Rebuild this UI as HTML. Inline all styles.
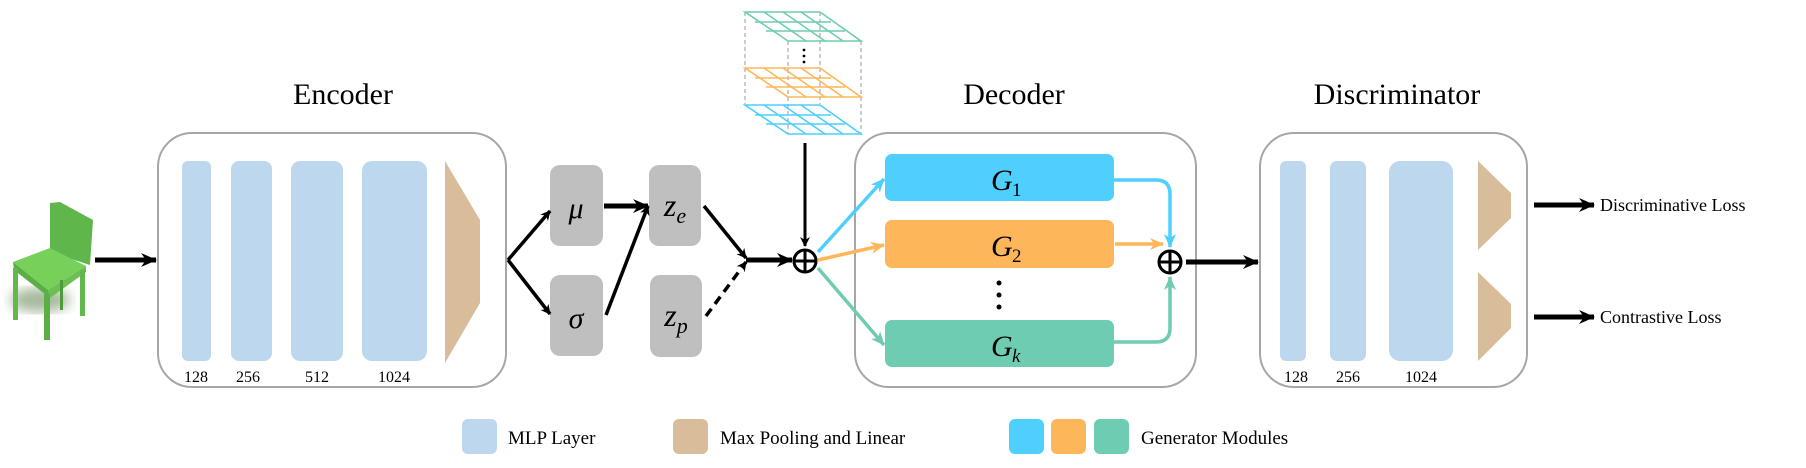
<!DOCTYPE html>
<html><head><meta charset="utf-8"><style>
html,body{margin:0;padding:0;background:#fff;}
svg{display:block;}
text{font-family:"Liberation Serif",serif;fill:#000;}
</style></head><body>
<svg width="1806" height="468" viewBox="0 0 1806 468" xmlns="http://www.w3.org/2000/svg">
<defs>
<marker id="ak" markerWidth="10" markerHeight="10" refX="9" refY="5" orient="auto" markerUnits="userSpaceOnUse"><path d="M0,0 L10,5 L0,10 L3,5 Z" fill="#000"/></marker>
<marker id="akb" markerWidth="16" markerHeight="14" refX="15" refY="7" orient="auto" markerUnits="userSpaceOnUse"><path d="M0,0 L16,7 L0,14 L5,7 Z" fill="#000"/></marker>
<marker id="ab" markerWidth="14" markerHeight="12" refX="13" refY="6" orient="auto" markerUnits="userSpaceOnUse"><path d="M0,0 L14,6 L0,12 L4,6 Z" fill="#4ECFFD"/></marker>
<marker id="ao" markerWidth="14" markerHeight="12" refX="13" refY="6" orient="auto" markerUnits="userSpaceOnUse"><path d="M0,0 L14,6 L0,12 L4,6 Z" fill="#FDB75A"/></marker>
<marker id="ag" markerWidth="14" markerHeight="12" refX="13" refY="6" orient="auto" markerUnits="userSpaceOnUse"><path d="M0,0 L14,6 L0,12 L4,6 Z" fill="#6ECCB2"/></marker>
<filter id="bl"><feGaussianBlur stdDeviation="6"/></filter>
</defs>

<!-- chair -->
<ellipse cx="40" cy="300" rx="30" ry="12" fill="#6a8a5a" opacity="0.6" filter="url(#bl)"/>
<polygon points="50,203 60,202 93,220 90,265 50,252" fill="#5fb64a"/>
<polygon points="13,262 50,248 86,266 48,290" fill="#76d05a"/>
<polygon points="13,262 48,290 50,298 14,270" fill="#5aae44"/>
<polygon points="48,290 86,266 86,272 50,298" fill="#6cc052"/>
<rect x="13" y="268" width="5" height="52" fill="#62b84a"/>
<rect x="44" y="294" width="6" height="46" fill="#5aae44"/>
<rect x="80" y="270" width="5" height="46" fill="#62b84a"/>
<rect x="60" y="280" width="3" height="30" fill="#4c9a3a"/>

<line x1="95" y1="260" x2="156" y2="260" stroke="#000" stroke-width="5" marker-end="url(#akb)"/>

<!-- Encoder -->
<text x="343" y="104" font-size="30" text-anchor="middle">Encoder</text>
<rect x="158" y="133" width="348" height="254" rx="34" fill="#fff" stroke="#a6a6a6" stroke-width="2"/>
<rect x="182" y="161" width="29" height="200" rx="6" fill="#BDD7EE"/>
<rect x="231" y="161" width="41" height="200" rx="8" fill="#BDD7EE"/>
<rect x="291" y="161" width="52" height="200" rx="9" fill="#BDD7EE"/>
<rect x="362" y="161" width="65" height="200" rx="10" fill="#BDD7EE"/>
<polygon points="445,161 480,220 480,303 445,363" fill="#D9BC99"/>
<text x="196" y="382" font-size="16" text-anchor="middle">128</text>
<text x="248" y="382" font-size="16" text-anchor="middle">256</text>
<text x="317" y="382" font-size="16" text-anchor="middle">512</text>
<text x="394" y="382" font-size="16" text-anchor="middle">1024</text>

<!-- mu sigma z -->
<rect x="550" y="165" width="53" height="81" rx="10" fill="#BFBFBF"/>
<rect x="550" y="275" width="53" height="81" rx="10" fill="#BFBFBF"/>
<rect x="649" y="165" width="52" height="81" rx="10" fill="#BFBFBF"/>
<rect x="650" y="275" width="52" height="82" rx="10" fill="#BFBFBF"/>
<text x="576" y="218" font-size="30" font-style="italic" text-anchor="middle">μ</text>
<text x="576" y="328" font-size="30" font-style="italic" text-anchor="middle">σ</text>
<text x="675" y="216" font-size="32" font-style="italic" text-anchor="middle">z<tspan font-size="22" dy="7">e</tspan></text>
<text x="676" y="326" font-size="32" font-style="italic" text-anchor="middle">z<tspan font-size="22" dy="7">p</tspan></text>

<g stroke="#000" stroke-width="3.5" fill="none">
<line x1="508" y1="260" x2="550" y2="211" marker-end="url(#ak)"/>
<line x1="508" y1="260" x2="550" y2="314" marker-end="url(#ak)"/>
<line x1="604" y1="206" x2="648" y2="206" stroke-width="5" marker-end="url(#akb)"/>
<line x1="606" y1="315" x2="648" y2="206" marker-end="url(#ak)"/>
<line x1="704" y1="206" x2="746" y2="258" marker-end="url(#ak)"/>
<line x1="706" y1="316" x2="746" y2="262" stroke-dasharray="9,6" marker-end="url(#ak)"/>
<line x1="746" y1="260" x2="792" y2="260" stroke-width="5" marker-end="url(#akb)"/>
<line x1="805" y1="143" x2="805" y2="246" stroke-width="3" marker-end="url(#ak)"/>
</g>
<circle cx="805" cy="261" r="11" fill="#fff" stroke="#000" stroke-width="3"/>
<line x1="794" y1="261" x2="816" y2="261" stroke="#000" stroke-width="3"/>
<line x1="805" y1="250" x2="805" y2="272" stroke="#000" stroke-width="3"/>

<!-- grid stack -->
<g stroke="#999" stroke-width="1" stroke-dasharray="4,3" fill="none">
<line x1="745" y1="12" x2="745" y2="104"/>
<line x1="861" y1="41" x2="861" y2="134"/>
<line x1="788" y1="41" x2="788" y2="134"/>
<line x1="820" y1="12" x2="820" y2="104"/>
</g>
<g fill="none" stroke-width="1.6">
<g stroke="#6ECCB2">
<polygon points="745,12 820,12 861,41 788,41"/>
<line x1="755" y1="22" x2="831" y2="22"/><line x1="766" y1="31" x2="845" y2="31"/>
<line x1="764" y1="12" x2="806" y2="41"/><line x1="783" y1="12" x2="825" y2="41"/><line x1="801" y1="12" x2="843" y2="41"/>
</g>
<g stroke="#FDB75A">
<polygon points="745,68 820,68 861,97 788,97"/>
<line x1="755" y1="78" x2="831" y2="78"/><line x1="766" y1="87" x2="845" y2="87"/>
<line x1="764" y1="68" x2="806" y2="97"/><line x1="783" y1="68" x2="825" y2="97"/><line x1="801" y1="68" x2="843" y2="97"/>
</g>
<g stroke="#4ECFFD">
<polygon points="745,105 820,105 861,134 788,134"/>
<line x1="755" y1="115" x2="831" y2="115"/><line x1="766" y1="124" x2="845" y2="124"/>
<line x1="764" y1="105" x2="806" y2="134"/><line x1="783" y1="105" x2="825" y2="134"/><line x1="801" y1="105" x2="843" y2="134"/>
</g>
</g>
<circle cx="804" cy="50" r="1.4" fill="#000"/><circle cx="804" cy="56" r="1.4" fill="#000"/><circle cx="804" cy="62" r="1.4" fill="#000"/>

<!-- Decoder -->
<text x="1014" y="104" font-size="30" text-anchor="middle">Decoder</text>
<rect x="855" y="133" width="341" height="254" rx="34" fill="#fff" stroke="#a6a6a6" stroke-width="2"/>
<rect x="885" y="154" width="229" height="47" rx="7" fill="#4ECFFD"/>
<rect x="885" y="220" width="229" height="48" rx="7" fill="#FDB75A"/>
<rect x="885" y="320" width="229" height="47" rx="7" fill="#6ECCB2"/>
<text x="991" y="190" font-size="30" font-style="italic">G</text><text x="1012" y="196" font-size="19">1</text>
<text x="991" y="256" font-size="30" font-style="italic">G</text><text x="1012" y="262" font-size="19">2</text>
<text x="991" y="356" font-size="30" font-style="italic">G</text><text x="1012" y="362" font-size="19" font-style="italic">k</text>
<circle cx="999" cy="283" r="2.5" fill="#000"/><circle cx="999" cy="295" r="2.5" fill="#000"/><circle cx="999" cy="307" r="2.5" fill="#000"/>

<line x1="818" y1="252" x2="884" y2="179" stroke="#4ECFFD" stroke-width="3.5" marker-end="url(#ab)"/>
<line x1="818" y1="260" x2="884" y2="245" stroke="#FDB75A" stroke-width="3.5" marker-end="url(#ao)"/>
<line x1="818" y1="268" x2="884" y2="345" stroke="#6ECCB2" stroke-width="3.5" marker-end="url(#ag)"/>
<path d="M1114,180 L1156,180 Q1170,180 1170,194 L1170,247" stroke="#4ECFFD" stroke-width="3.5" fill="none" marker-end="url(#ab)"/>
<line x1="1115" y1="244" x2="1163" y2="244" stroke="#FDB75A" stroke-width="3.5" marker-end="url(#ao)"/>
<path d="M1114,342 L1156,342 Q1170,342 1170,328 L1170,277" stroke="#6ECCB2" stroke-width="3.5" fill="none" marker-end="url(#ag)"/>
<circle cx="1170" cy="262" r="11" fill="#fff" stroke="#000" stroke-width="3"/>
<line x1="1159" y1="262" x2="1181" y2="262" stroke="#000" stroke-width="3"/>
<line x1="1170" y1="251" x2="1170" y2="273" stroke="#000" stroke-width="3"/>
<line x1="1186" y1="262" x2="1258" y2="262" stroke="#000" stroke-width="5" marker-end="url(#akb)"/>

<!-- Discriminator -->
<text x="1397" y="104" font-size="30" text-anchor="middle">Discriminator</text>
<rect x="1260" y="133" width="267" height="254" rx="34" fill="#fff" stroke="#a6a6a6" stroke-width="2"/>
<rect x="1280" y="161" width="26" height="200" rx="6" fill="#BDD7EE"/>
<rect x="1330" y="161" width="36" height="200" rx="7" fill="#BDD7EE"/>
<rect x="1389" y="161" width="64" height="200" rx="11" fill="#BDD7EE"/>
<polygon points="1478,161 1511,193 1511,218 1478,250" fill="#D9BC99"/>
<polygon points="1478,272 1511,304 1511,328 1478,361" fill="#D9BC99"/>
<text x="1296" y="382" font-size="16" text-anchor="middle">128</text>
<text x="1348" y="382" font-size="16" text-anchor="middle">256</text>
<text x="1421" y="382" font-size="16" text-anchor="middle">1024</text>

<line x1="1534" y1="205" x2="1594" y2="205" stroke="#000" stroke-width="5" marker-end="url(#akb)"/>
<line x1="1534" y1="317" x2="1594" y2="317" stroke="#000" stroke-width="5" marker-end="url(#akb)"/>
<text x="1600" y="211" font-size="18">Discriminative Loss</text>
<text x="1600" y="323" font-size="18">Contrastive Loss</text>

<!-- Legend -->
<rect x="462" y="419" width="35" height="35" rx="6" fill="#BDD7EE"/>
<text x="508" y="444" font-size="19">MLP Layer</text>
<rect x="673" y="419" width="35" height="35" rx="6" fill="#D9BC99"/>
<text x="720" y="444" font-size="19">Max Pooling and Linear</text>
<rect x="1009" y="419" width="35" height="35" rx="6" fill="#4ECFFD"/>
<rect x="1051" y="419" width="35" height="35" rx="6" fill="#FDB75A"/>
<rect x="1094" y="419" width="35" height="35" rx="6" fill="#6ECCB2"/>
<text x="1141" y="444" font-size="19">Generator Modules</text>
</svg>
</body></html>
